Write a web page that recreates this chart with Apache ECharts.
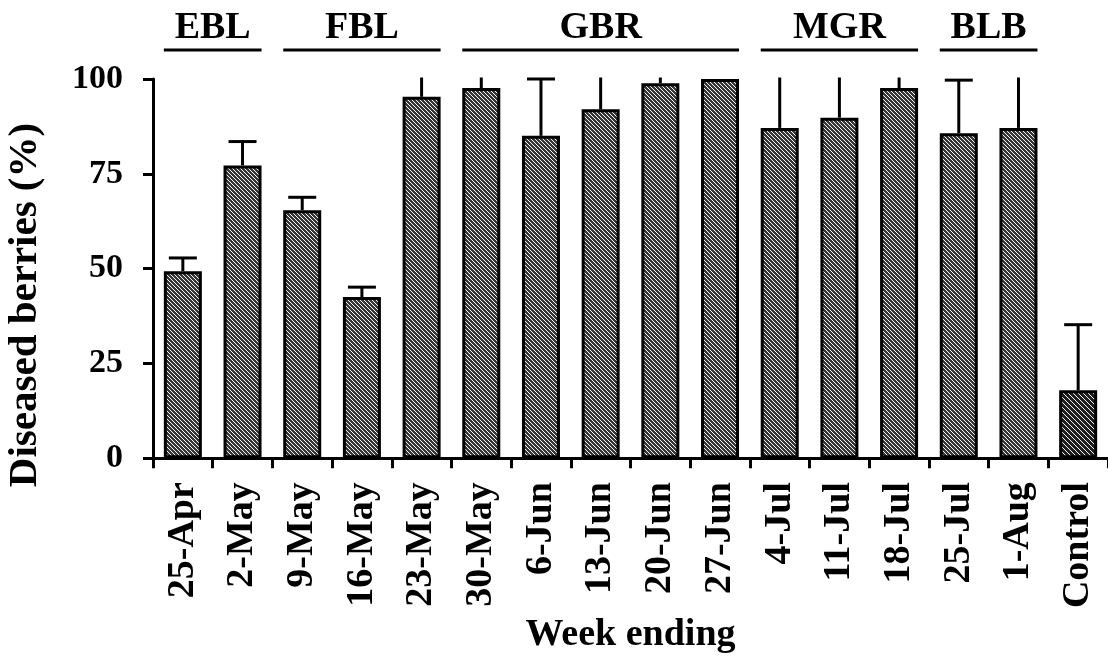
<!DOCTYPE html>
<html>
<head>
<meta charset="utf-8">
<script src="https://cdn.jsdelivr.net/npm/echarts@6/dist/echarts.min.js"></script>
<style>
html,body{margin:0;padding:0;background:#fff;}
#chart{width:1108px;height:659px;}
</style>
</head>
<body>
<div id="chart"></div>
<script>
// ---- data ----
var categories = ['25-Apr','2-May','9-May','16-May','23-May','30-May','6-Jun','13-Jun','20-Jun','27-Jun','4-Jul','11-Jul','18-Jul','25-Jul','1-Aug','Control'];
var diseased = [49.3, 77.2, 65.4, 42.5, 95.3, 97.6, 85.0, 92.0, 98.9, 100, 87.1, 89.8, 97.6, 85.7, 87.1, 17.9];
var errUpper = [3.5, 6.3, 3.4, 2.6, 6.0, 4.0, 15.0, 9.0, 2.0, 0, 14.0, 12.0, 4.0, 14.0, 14.0, 17.3];
var groupNames = ['EBL','FBL','GBR','MGR','BLB'];
var groupStart = [0, 2, 5, 10, 13];
var groupEnd   = [1, 4, 9, 12, 14];
var yTicks = [0, 25, 50, 75, 100];

var FONT = '"Liberation Serif", "Times New Roman", serif';

function makePattern(period, dark) {
  var c = document.createElement('canvas');
  c.width = period; c.height = period;
  var ctx = c.getContext('2d');
  var img = ctx.createImageData(period, period);
  for (var y = 0; y < period; y++) {
    for (var x = 0; x < period; x++) {
      var i = (y * period + x) * 4;
      var w = (((x - y) % period) + period) % period === 0;
      var v = w ? 245 : dark;
      img.data[i] = v; img.data[i+1] = v; img.data[i+2] = v; img.data[i+3] = 255;
    }
  }
  ctx.putImageData(img, 0, 0);
  return c;
}
var patNormal = makePattern(4, 55);
var patControl = makePattern(5, 30);

var barData = diseased.map(function (v, i) {
  return {
    value: v,
    itemStyle: {
      color: { image: categories[i] === 'Control' ? patControl : patNormal, repeat: 'repeat' },
      borderColor: '#000', borderWidth: 3
    }
  };
});

var errData = diseased.map(function (v, i) { return [i, v, v + errUpper[i]]; });
var groupData = groupNames.map(function (n, i) { return [groupStart[i], groupEnd[i], n]; });

var chart = echarts.init(document.getElementById('chart'));
chart.setOption({
  animation: false,
  backgroundColor: '#fff',
  grid: { left: 153, right: 0, top: 79, bottom: 199, containLabel: false },
  xAxis: {
    type: 'category',
    data: categories,
    boundaryGap: true,
    axisLine: { show: true, lineStyle: { color: '#000', width: 3 } },
    axisTick: { show: true, length: 10, lineStyle: { color: '#000', width: 3 } },
    axisLabel: {
      rotate: 90, interval: 0, margin: 24,
      fontFamily: FONT, fontWeight: 'bold', fontSize: 38, color: '#000'
    },
    name: 'Week ending',
    nameLocation: 'middle',
    nameGap: 129,
    nameTextStyle: { fontFamily: FONT, fontWeight: 'bold', fontSize: 38, color: '#000' }
  },
  yAxis: {
    type: 'value',
    min: 0, max: 100, interval: 25,
    axisLine: { show: true, lineStyle: { color: '#000', width: 3 } },
    axisTick: { show: true, length: 10, lineStyle: { color: '#000', width: 3 } },
    axisLabel: {
      margin: 30, fontFamily: FONT, fontWeight: 'bold', fontSize: 34, color: '#000',
      formatter: function (v) { return yTicks.indexOf(v) >= 0 ? String(v) : ''; }
    },
    splitLine: { show: false }
  },
  graphic: [{
    type: 'text',
    x: 25, y: 305,
    rotation: Math.PI / 2,
    style: {
      text: 'Diseased berries (%)',
      fontFamily: FONT, fontWeight: 'bold', fontSize: 41, fill: '#000',
      textAlign: 'center', textVerticalAlign: 'middle'
    }
  }],
  series: [
    {
      type: 'bar',
      data: barData,
      barWidth: 38,
      z: 2
    },
    {
      type: 'custom',
      clip: false,
      z: 3,
      data: errData,
      renderItem: function (params, api) {
        var idx = api.value(0), lo = api.value(1), hi = api.value(2);
        if (hi <= lo) return null;
        var top = Math.min(hi, 100);
        var p0 = api.coord([idx, lo]);
        var p1 = api.coord([idx, top]);
        var children = [{
          type: 'line',
          shape: { x1: p0[0], y1: p0[1], x2: p1[0], y2: p1[1] - (hi > 100.001 ? 1.5 : 0) },
          style: { stroke: '#000', lineWidth: 3 }
        }];
        if (hi <= 100.001) {
          children.push({
            type: 'line',
            shape: { x1: p1[0] - 14, y1: p1[1], x2: p1[0] + 14, y2: p1[1] },
            style: { stroke: '#000', lineWidth: 3 }
          });
        }
        return { type: 'group', children: children };
      }
    },
    {
      type: 'custom',
      clip: false,
      z: 3,
      data: groupData,
      renderItem: function (params, api) {
        var a = api.coord([api.value(0), 0]);
        var b = api.coord([api.value(1), 0]);
        var x1 = a[0] - 19, x2 = b[0] + 19;
        var name = groupNames[params.dataIndex];
        return {
          type: 'group',
          children: [
            { type: 'line', shape: { x1: x1, y1: 50, x2: x2, y2: 50 }, style: { stroke: '#000', lineWidth: 3 } },
            { type: 'text', x: (x1 + x2) / 2, y: 28,
              style: { text: name, fontFamily: FONT, fontWeight: 'bold', fontSize: 38, fill: '#000',
                       textAlign: 'center', textVerticalAlign: 'middle' } }
          ]
        };
      }
    }
  ]
});
</script>
</body>
</html>
